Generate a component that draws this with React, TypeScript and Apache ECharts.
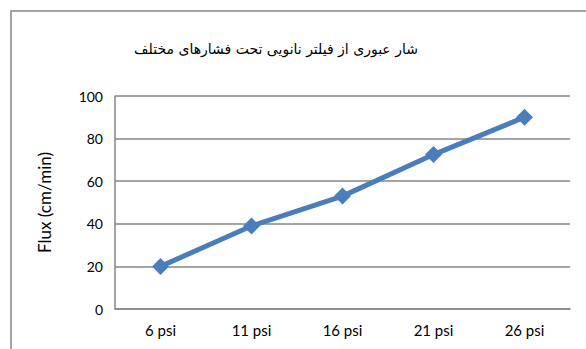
import React, { useEffect, useRef } from "react";
import * as echarts from "echarts";

const categories = ["6 psi", "11 psi", "16 psi", "21 psi", "26 psi"];
const fluxValues = [20, 39, 53, 72.5, 90];
const titleText = "شار عبوری از فیلتر نانویی تحت فشارهای مختلف";
const yAxisName = "Flux (cm/min)";

export default function App() {
  const ref = useRef<HTMLDivElement>(null);

  useEffect(() => {
    document.body.style.margin = "0";
    const chart = echarts.init(ref.current!, undefined, { renderer: "svg" });
    const font = "Lato, 'Open Sans', sans-serif";
    chart.setOption({
      animation: false,
      backgroundColor: "#ffffff",
      title: {
        text: titleText,
        left: 271,
        top: 37,
        textAlign: "center",
        textStyle: {
          fontFamily: "'DejaVu Sans', sans-serif",
          fontSize: 14,
          fontWeight: "normal",
          color: "#000000",
        },
      },
      graphic: [
        {
          type: "rect",
          shape: { x: 11, y: 11, width: 620, height: 400 },
          style: { fill: "none", stroke: "#868686", lineWidth: 1.5 },
          silent: true,
        },
      ],
      grid: { left: 115, top: 96, right: 16, bottom: 40 },
      xAxis: {
        type: "category",
        data: categories,
        boundaryGap: true,
        axisLine: { show: true, lineStyle: { color: "#868686", width: 1.5 } },
        axisTick: { show: false },
        axisLabel: { color: "#000000", fontFamily: font, fontSize: 15, margin: 13 },
      },
      yAxis: {
        type: "value",
        min: 0,
        max: 100,
        interval: 20,
        name: yAxisName,
        nameLocation: "middle",
        nameGap: 62,
        nameTextStyle: { color: "#000000", fontFamily: font, fontSize: 17 },
        axisLine: { show: true, lineStyle: { color: "#868686", width: 1.5 } },
        axisTick: { show: false },
        axisLabel: { color: "#000000", fontFamily: font, fontSize: 14, margin: 12 },
        splitLine: { show: true, lineStyle: { color: "#868686", width: 1.5 } },
      },
      series: [
        {
          type: "line",
          data: fluxValues,
          symbol: "diamond",
          symbolSize: 17,
          lineStyle: { color: "#4a7ebb", width: 5 },
          itemStyle: { color: "#4a7ebb" },
        },
      ],
    });
    return () => chart.dispose();
  }, []);

  return <div ref={ref} style={{ width: 586, height: 349 }} />;
}
